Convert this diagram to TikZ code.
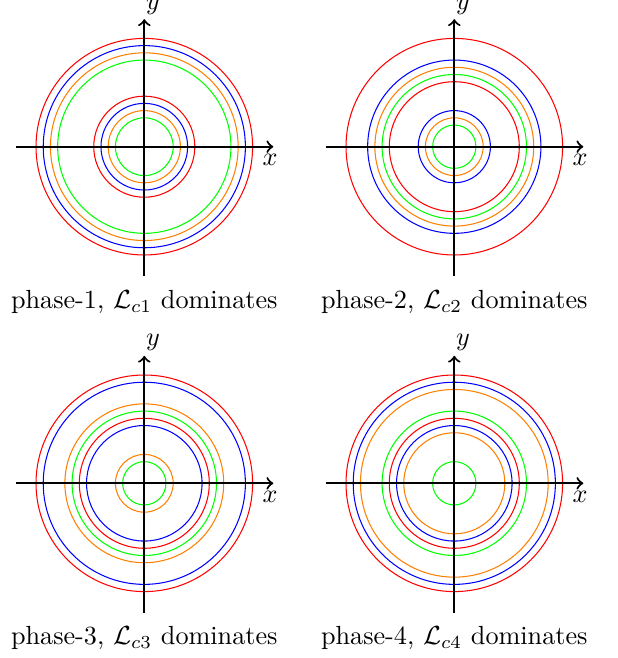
\documentclass[tikz,border=0pt]{standalone}
\begin{document}
\begin{tikzpicture}[x=0.3817pt,y=0.3817pt,
  axis/.style={thick,->},
  ring/.style={line width=0.4pt},
  lbl/.style={inner sep=0pt}]
\useasboundingbox (0,0) rectangle (617,658);
\foreach \cx/\cy/\n/\rr/\rb/\ro/\rg in {
  144.3/511.3/1/{15,7}/{14,6}/{13,5}/{12,4},
  454.3/511.3/2/{15,9}/{12,5}/{11,4}/{10,3},
  144.3/174.7/3/{15,9}/{14,8}/{11,4}/{10,3},
  454.3/174.7/4/{15,9}/{14,8}/{13,7}/{10,3}} {
  \begin{scope}[shift={(\cx,\cy)}]
    \coordinate (O\n) at (0,0);
    \foreach \r in \rr {\draw[ring,red] (O\n) circle[radius=\r*7.22];}
    \foreach \r in \rb {\draw[ring,blue] (O\n) circle[radius=\r*7.22];}
    \foreach \r in \ro {\draw[ring,orange] (O\n) circle[radius=\r*7.22];}
    \foreach \r in \rg {\draw[ring,green] (O\n) circle[radius=\r*7.22];}
    \coordinate (L\n) at (-128.6,0);
    \coordinate (R\n) at (129,0);
    \coordinate (B\n) at (0,-129.3);
    \coordinate (T\n) at (0,127.5);
    \draw[axis] (L\n) -- (R\n);
    \draw[axis] (B\n) -- (T\n);
    \node[lbl] (x\n) at (125.7,-13.3) {$x$};
    \node[lbl] (y\n) at (8.7,140.5) {$y$};
    \node (t\n) at (0,-155) {phase-\n, $\mathcal{L}_{c\n}$ dominates};
  \end{scope}
}
\end{tikzpicture}
\end{document}
